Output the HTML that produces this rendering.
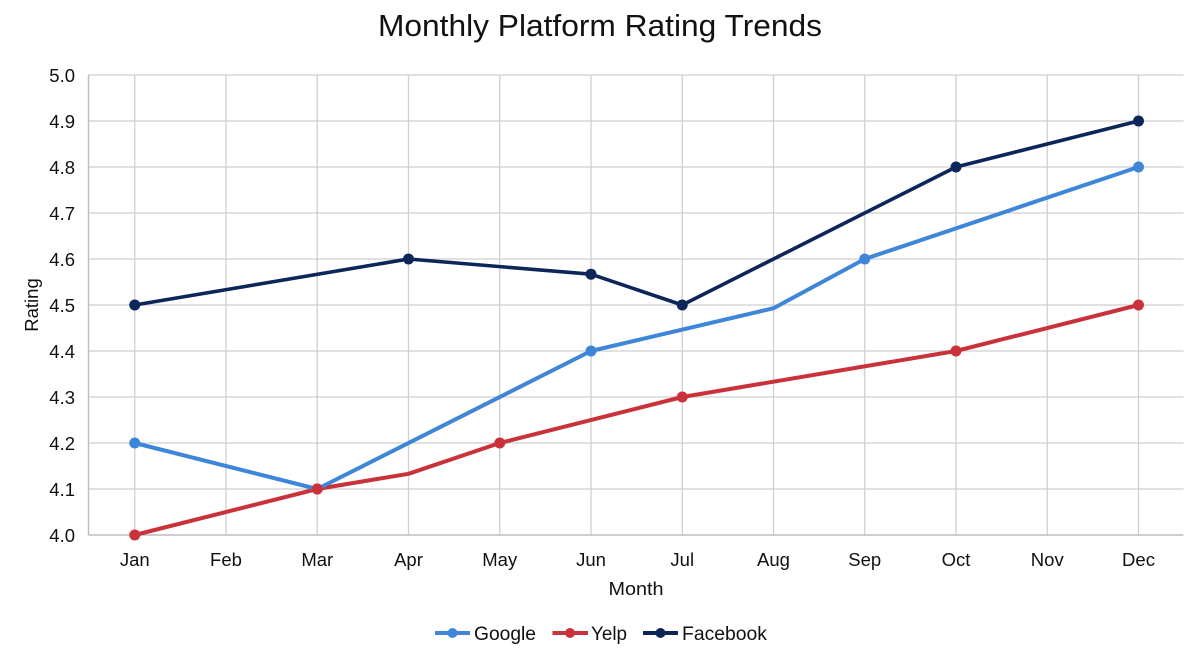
<!DOCTYPE html>
<html><head><meta charset="utf-8"><style>
html,body{margin:0;padding:0;background:#fff;}
svg{display:block;font-family:"Liberation Sans",Arial,sans-serif;}
</style></head><body>
<svg width="1200" height="655" viewBox="0 0 1200 655" xmlns="http://www.w3.org/2000/svg">
<rect width="1200" height="655" fill="#ffffff"/>
<text x="600" y="36" text-anchor="middle" font-size="31" fill="#111" textLength="444" lengthAdjust="spacingAndGlyphs">Monthly Platform Rating Trends</text>
<g stroke="#cfcfcf" stroke-width="1.3">
<line x1="88.5" y1="75" x2="1183.5" y2="75"/>
<line x1="88.5" y1="121" x2="1183.5" y2="121"/>
<line x1="88.5" y1="167" x2="1183.5" y2="167"/>
<line x1="88.5" y1="213" x2="1183.5" y2="213"/>
<line x1="88.5" y1="259" x2="1183.5" y2="259"/>
<line x1="88.5" y1="305" x2="1183.5" y2="305"/>
<line x1="88.5" y1="351" x2="1183.5" y2="351"/>
<line x1="88.5" y1="397" x2="1183.5" y2="397"/>
<line x1="88.5" y1="443" x2="1183.5" y2="443"/>
<line x1="88.5" y1="489" x2="1183.5" y2="489"/>
<line x1="134.75" y1="75" x2="134.75" y2="535"/>
<line x1="226" y1="75" x2="226" y2="535"/>
<line x1="317.25" y1="75" x2="317.25" y2="535"/>
<line x1="408.5" y1="75" x2="408.5" y2="535"/>
<line x1="499.75" y1="75" x2="499.75" y2="535"/>
<line x1="591" y1="75" x2="591" y2="535"/>
<line x1="682.25" y1="75" x2="682.25" y2="535"/>
<line x1="773.5" y1="75" x2="773.5" y2="535"/>
<line x1="864.75" y1="75" x2="864.75" y2="535"/>
<line x1="956" y1="75" x2="956" y2="535"/>
<line x1="1047.25" y1="75" x2="1047.25" y2="535"/>
<line x1="1138.5" y1="75" x2="1138.5" y2="535"/>
</g>
<g stroke="#bdbdbd" stroke-width="1.4">
<line x1="88.5" y1="75" x2="88.5" y2="535"/>
<line x1="88.5" y1="535" x2="1183.5" y2="535"/>
</g>
<g font-size="18.5" fill="#111" text-anchor="end">
<text x="75" y="82">5.0</text>
<text x="75" y="128">4.9</text>
<text x="75" y="174">4.8</text>
<text x="75" y="220">4.7</text>
<text x="75" y="266">4.6</text>
<text x="75" y="312">4.5</text>
<text x="75" y="358">4.4</text>
<text x="75" y="404">4.3</text>
<text x="75" y="450">4.2</text>
<text x="75" y="496">4.1</text>
<text x="75" y="542">4.0</text>
</g>
<g font-size="18.5" fill="#111" text-anchor="middle">
<text x="134.75" y="566">Jan</text>
<text x="226" y="566">Feb</text>
<text x="317.25" y="566">Mar</text>
<text x="408.5" y="566">Apr</text>
<text x="499.75" y="566">May</text>
<text x="591" y="566">Jun</text>
<text x="682.25" y="566">Jul</text>
<text x="773.5" y="566">Aug</text>
<text x="864.75" y="566">Sep</text>
<text x="956" y="566">Oct</text>
<text x="1047.25" y="566">Nov</text>
<text x="1138.5" y="566">Dec</text>
<text x="636" y="595" textLength="55" lengthAdjust="spacingAndGlyphs">Month</text>
<text transform="translate(38,305) rotate(-90)">Rating</text>
</g>
<!-- Yelp -->
<polyline fill="none" stroke="#c9323a" stroke-width="4" stroke-linejoin="round" points="134.75,535 317.25,489 408.5,473.8 499.75,443 682.25,397 956,351 1138.5,305"/>
<g fill="#c9323a">
<circle cx="134.75" cy="535" r="5.5"/><circle cx="317.25" cy="489" r="5.5"/><circle cx="499.75" cy="443" r="5.5"/><circle cx="682.25" cy="397" r="5.5"/><circle cx="956" cy="351" r="5.5"/><circle cx="1138.5" cy="305" r="5.5"/>
</g>
<!-- Google -->
<polyline fill="none" stroke="#3f86d9" stroke-width="4" stroke-linejoin="round" points="134.75,443 317.25,489 591,351 773.5,308.2 864.75,259 1138.5,167"/>
<g fill="#3f86d9">
<circle cx="134.75" cy="443" r="5.5"/><circle cx="591" cy="351" r="5.5"/><circle cx="864.75" cy="259" r="5.5"/><circle cx="1138.5" cy="167" r="5.5"/>
</g>
<circle cx="317.25" cy="489" r="5.5" fill="#c9323a"/>
<!-- Facebook -->
<polyline fill="none" stroke="#0c2659" stroke-width="3.6" stroke-linejoin="round" points="134.75,305 408.5,259 591,274.2 682.25,305 956,167 1138.5,121"/>
<g fill="#0c2659">
<circle cx="134.75" cy="305" r="5.5"/><circle cx="408.5" cy="259" r="5.5"/><circle cx="591" cy="274.2" r="5.5"/><circle cx="682.25" cy="305" r="5.5"/><circle cx="956" cy="167" r="5.5"/><circle cx="1138.5" cy="121" r="5.5"/>
</g>
<!-- Legend -->
<g font-size="19" fill="#111">
<line x1="435" y1="633" x2="470" y2="633" stroke="#3f86d9" stroke-width="4"/>
<circle cx="452.5" cy="633" r="5" fill="#3f86d9"/>
<text x="474" y="640" textLength="62" lengthAdjust="spacingAndGlyphs">Google</text>
<line x1="552.5" y1="633" x2="588" y2="633" stroke="#c9323a" stroke-width="4"/>
<circle cx="570" cy="633" r="5" fill="#c9323a"/>
<text x="591" y="640" textLength="36" lengthAdjust="spacingAndGlyphs">Yelp</text>
<line x1="643" y1="633" x2="678" y2="633" stroke="#0c2659" stroke-width="4"/>
<circle cx="660.5" cy="633" r="5" fill="#0c2659"/>
<text x="682" y="640" textLength="85" lengthAdjust="spacingAndGlyphs">Facebook</text>
</g>
</svg>
</body></html>
